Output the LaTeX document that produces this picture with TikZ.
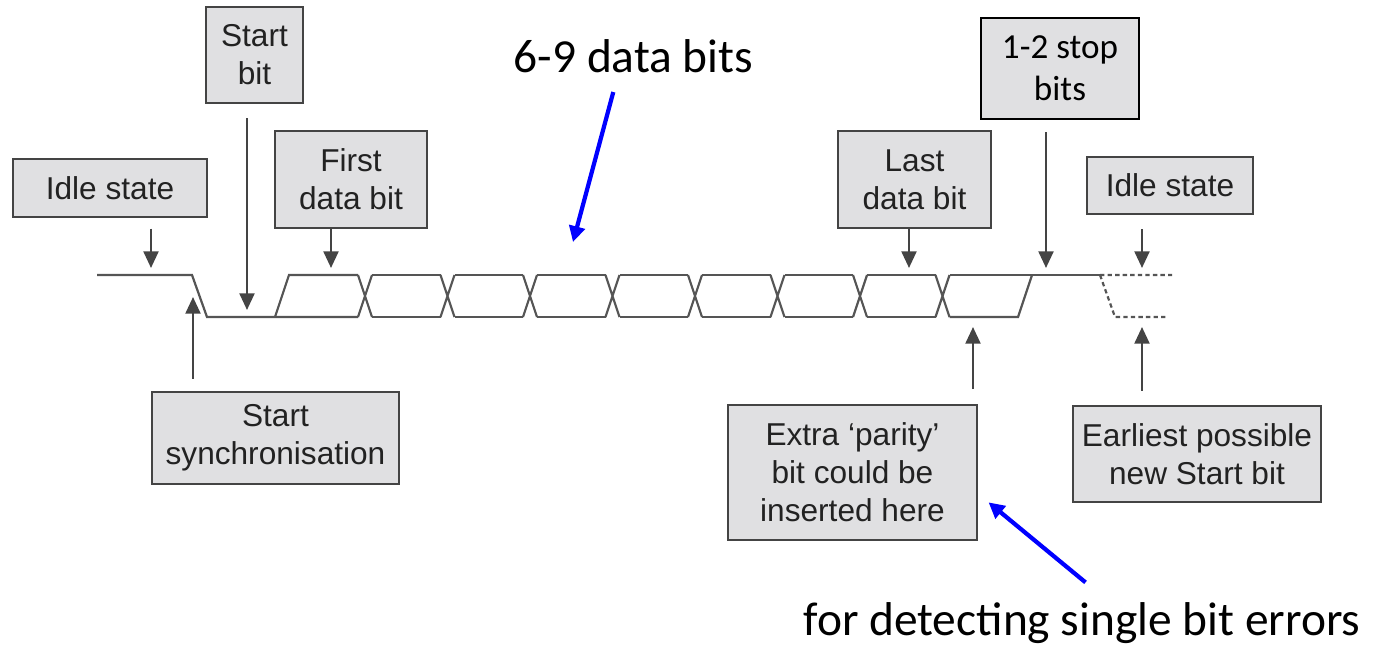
\documentclass[tikz,border=0pt]{standalone}
\usepackage{fontspec}
\setmainfont{Liberation Sans}
\newfontfamily\calibri{Carlito}
\usetikzlibrary{arrows.meta}
\definecolor{boxfill}{RGB}{224,224,226}
\definecolor{boxline}{RGB}{68,68,68}
\definecolor{boxtext}{RGB}{34,34,34}
\definecolor{wave}{RGB}{85,85,85}
\tikzset{
	labelbox/.style={draw=boxline, fill=boxfill, line width=1.2pt, text=boxtext, align=center, inner sep=0pt, font=\fontsize{18}{21.6}\selectfont},
	pointer/.style={draw=boxline, line width=1.4pt, -{Triangle[length=9.5pt,width=8.5pt]}},
	bluepointer/.style={draw=blue, line width=2.4pt, -{Triangle[length=9pt,width=9pt]}},
	signal/.style={draw=wave, line width=1.25pt},
	bigtext/.style={font=\calibri\fontsize{27}{32}\selectfont, inner sep=0pt}
}

\begin{document}
\begin{tikzpicture}[x=0.02cm, y=-0.02cm]
			%%%%% START %%%%%
			\useasboundingbox (0,0) rectangle (1380,646);
			
			% waveform
			\draw[signal] (97,275) -- (192,275) -- (207,317) -- (358,317);
			\draw[signal] (275,317) -- (289,275) -- (358,275);
			\foreach \c in {365,447.5,...,943}
				\draw[signal] ({\c-7},275) -- ({\c+7},317) ({\c-7},317) -- ({\c+7},275);
			\foreach \c in {365,447.5,...,861}
				\draw[signal] ({\c+7},275) -- ({\c+75.5},275) ({\c+7},317) -- ({\c+75.5},317);
			\draw[signal] (949.5,275) -- (1100,275);
			\draw[signal] (949.5,317) -- (1018,317) -- (1032,275);
			\draw[signal, dash pattern=on 2.5pt off 1.8pt] (1100,275) -- (1172,275) (1100,275) -- (1115,317) -- (1168,317);
			
			% boxes
			\node[labelbox, minimum width=3.88cm, minimum height=1.16cm] (idleA) at (110,188) {Idle state};
			\node[labelbox, minimum width=1.94cm, minimum height=1.92cm] (startbit) at (254.5,55) {Start\\bit};
			\node[labelbox, minimum width=3.04cm, minimum height=1.94cm] (firstbit) at (351,179.5) {First\\data bit};
			\node[labelbox, minimum width=4.94cm, minimum height=1.84cm] (sync) at (275.5,438) {Start\\synchronisation};
			\node[labelbox, minimum width=3.06cm, minimum height=1.94cm] (lastbit) at (914.5,179.5) {Last\\data bit};
			\node[labelbox, draw=black, text=black, font=\calibri\fontsize{20}{24}\selectfont, minimum width=3.16cm, minimum height=2.02cm] (stopbits) at (1060,68.5) {1-2 stop\\bits};
			\node[labelbox, minimum width=3.32cm, minimum height=1.14cm] (idleB) at (1170,185.5) {Idle state};
			\node[labelbox, minimum width=4.98cm, minimum height=2.7cm] (parity) at (852.5,472.5) {Extra ‘parity’\\bit could be\\inserted here};
			\node[labelbox, minimum width=4.96cm, minimum height=1.92cm] (earliest) at (1197,454) {Earliest possible\\new Start bit};
			
			\node[bigtext, anchor=base] (databits) at (633.5,72) {6-9 data bits};
			\node[bigtext, anchor=base] (errors) at (1082,635) {for detecting single bit errors};
			
			% arrow ends on the signal
			\coordinate (idleA tip) at (151,268);
			\coordinate (startbit tip) at (247,310);
			\coordinate (firstbit tip) at (331,268);
			\coordinate (sync tip) at (193,297);
			\coordinate (lastbit tip) at (909,268);
			\coordinate (stopbits tip) at (1046,268);
			\coordinate (idleB tip) at (1142,268);
			\coordinate (parity tip) at (973,327);
			\coordinate (earliest tip) at (1142,327);
			\coordinate (databits tip) at (573,242);
			
			\draw[pointer] ([yshift=-6pt]idleA.south -| idleA tip) -- (idleA tip);
			\draw[pointer] ([yshift=-8pt]startbit.south -| startbit tip) -- (startbit tip);
			\draw[pointer] (firstbit.south -| firstbit tip) -- (firstbit tip);
			\draw[pointer] ([yshift=7pt]sync.north -| sync tip) -- (sync tip);
			\draw[pointer] (lastbit.south -| lastbit tip) -- (lastbit tip);
			\draw[pointer] ([yshift=-7pt]stopbits.south -| stopbits tip) -- (stopbits tip);
			\draw[pointer] ([yshift=-8pt]idleB.south -| idleB tip) -- (idleB tip);
			\draw[pointer] ([yshift=8.5pt]parity.north -| parity tip) -- (parity tip);
			\draw[pointer] ([yshift=8pt]earliest.north -| earliest tip) -- (earliest tip);
			
			\draw[bluepointer] ([xshift=-11.5pt,yshift=-11pt]databits.south) -- (databits tip);
			\draw[bluepointer] ([xshift=2pt,yshift=11pt]errors.north) -- ([xshift=6pt,yshift=-17pt]parity.east);
			
			%%%%% END %%%%%
\end{tikzpicture}
\end{document}
